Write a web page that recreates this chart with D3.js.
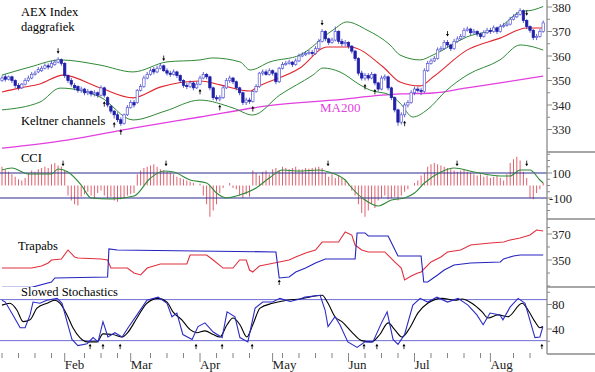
<!DOCTYPE html>
<html>
<head>
<meta charset="utf-8">
<script src="https://cdn.jsdelivr.net/npm/d3@7"></script>
<style>
  body { margin: 0; background: #fff; }
  svg { display: block; font-family: "Liberation Serif", "Times New Roman", serif; }
</style>
</head>
<body>
<div id="chart"></div>
<script>
// ---- data (trading day index 0..164, Jan..Aug) ----
var open = [350,351.5,350.5,351.5,350,348,347,348.5,350,351,352.5,353.5,354,355,356,355.5,356.5,357.5,358.5,357,
  352,350,348,347.5,346,346.5,345,345.5,344.5,345,344,347,343,339.5,337.5,336,334,332.5,336,339,
  341,341,346,347.5,351,352.5,354.5,353.5,355,356,354,353,352.5,353.5,352,350,348,347.5,349,347,
  348.5,351,352.5,351.5,347,343,342.5,343,347,350,351,349.5,347,345,341,342,341.5,345.5,347.5,353,
  353.5,352.5,354,353,349.5,355,356.5,357,357.5,356.5,358,360,360.5,361,361.5,361,363,366,370,367,
  365.5,366.5,370,366,365,365.5,364,362,359,353,351,352,351,352.5,349,346.5,351,351.5,347,343,
  338,333,336,340,341,345,346.5,346,345.5,354,357,358,359,362.5,363,365.5,364.5,363,366,367,
  368,370.5,371,369.5,370,369,368,369.5,370.5,370,371.5,370,372,372.5,373,375,376,377,378.5,374.5,
  372,370.5,367.5,368,370];
var high = [352,352.5,352,352,350.5,349,349,351,352,353.5,354,355.5,356,357,357,358,358.5,359.5,359,357.5,
  352.5,351,349,348,347.5,347,346.5,346,346,345.5,348,347.5,343.5,340,338,337,335,336.5,340,342,
  342,346.5,348.5,352,353.5,355,355.5,356,357,356.5,355,354,354.5,354,352.5,350.5,349,350,349.5,349.5,
  352,353.5,353,352,347.5,344,344,348,351,352,351.5,350,347.5,345.5,343,343,346,348.5,353.5,354.5,
  354.5,355,354.5,353.5,355.5,357.5,358,358.5,358,359,361,361.5,362,362.5,362.5,364,367,371,370.5,367.5,
  367.5,372,370.5,367,366.5,366,364.5,362.5,359.5,354,353,353,353.5,353,349.5,352,352.5,352,347.5,343.5,
  338.5,337,341,342,346,347.5,347.5,347,355,358,359,360,363.5,364,366.5,366.5,365,367,368,369,
  371.5,372,371.5,371,370.5,369.5,370.5,371.5,371.5,372.5,372,373,373.5,374,376,377,378,379.5,379,375,
  372.5,371,369,371,374.5];
var low = [349.5,349.5,350,349,347,346,346.5,348,349.5,350.5,352,353,353.5,354.5,354.5,355,356,357,356,351,
  349,347.5,346,345,345,344,344,343.5,343.5,343,343.5,343,339,336.5,334.5,333,331.5,332,335.5,338.5,
  339,340.5,345.5,347,350.5,352,352.5,353,354.5,353.5,352,351.5,352,351,349,347,346.5,347,346,346.5,
  348,350.5,350.5,346,342,341.5,341.5,342.5,346.5,349,348.5,346,344,340,340,340.5,341,345,347,352,
  352,352,352,348.5,349,354.5,356,356.5,355.5,356,357.5,359.5,360,360.5,360,360.5,362.5,365.5,366,364.5,
  365,366,365,364,364,363,361,358,352,350,350,350,350.5,348,345.5,346,350,346,342,337,
  331.5,332,335,339,340.5,344,345,344,345,353.5,356.5,357.5,358.5,362,362.5,363.5,362,362.5,365.5,366.5,
  367.5,370,368.5,369,368,367,367.5,369,369,369.5,369,369.5,371.5,372,372.5,374.5,375.5,376.5,373.5,371,
  369.5,366.5,366.5,367.5,369.5];
var close = [351,350.5,351.5,350,348,347,348.5,350,351,352.5,353,354.5,355,356,355.5,357,357.5,358.5,357,352,
  350,348.5,347,346,346.5,345,345.5,344.5,345,344,347,344,340,337.5,336,334,332.5,336,339,341,
  340,346,347.5,351,352.5,354,353.5,355,356,354,353,352.5,353.5,352,350,348,347.5,349,347,348.5,
  351,352.5,351.5,347,343,342.5,343,347,350,351,349.5,347,345,341,342,341.5,345.5,347.5,353,353.5,
  352.5,354,353,349.5,355,356.5,357,357.5,356.5,358,360,360.5,361,361.5,361,363,366,370,367,365.5,
  366.5,370,366,365,365.5,364,362,359,353,351,352,351,352.5,349,346.5,351,351.5,347,343,338,
  333,336,340,341,345,346.5,346,345.5,354,357,358,359,362.5,363,365.5,364.5,363,366,367,368,
  370.5,371,369.5,370,369,368,369.5,370.5,370,371.5,370,372,372.5,373,375,376,377,378.5,374.5,372,
  370.5,367.5,368,370,373.5];

// Keltner channels and MA200 as [day, value]
var keltnerMid = [[0,345.3],[5.5,347],[11.5,348.6],[18.5,352.2],[29.7,347],[39.7,342.9],[47.9,347.3],[60,349.8],
  [66.1,348.2],[75.2,345.7],[77.3,347.3],[90.3,355.1],[98.5,363.7],[105.5,363.7],[115.5,355.5],[120.6,349.4],
  [126.7,347.8],[130.6,351.4],[140.9,362.4],[150.9,367.3],[159.1,371.4],[164,371.4]];
var keltnerUp = [[0,352.2],[8.5,355.5],[17.6,358.4],[29.7,356.3],[39.7,353.5],[50,357.6],[60,358.4],[63.9,359.2],
  [72.1,357.6],[75.2,354.3],[81.2,357.6],[90.3,360.4],[100.3,370.6],[104.5,373.9],[110.6,370.6],[117.6,364.5],
  [120.6,360.4],[126.7,358.4],[130.6,360.4],[140.9,367.8],[150.9,371.8],[157,378],[161,378.8],[164,380.2]];
var keltnerLow = [[0,338],[11.5,341.2],[17.6,346.9],[29.7,343.3],[39.7,333.9],[49.4,337.5],[60,342],[70,338.8],
  [76,335.9],[84.2,344.1],[94.2,352.2],[97.3,355.1],[102.4,353.5],[108.5,348.2],[111.5,346.1],[117.6,344.1],
  [120.6,340.8],[124.5,335.1],[128.8,338],[134.8,346.1],[140.9,352.2],[150.9,358.4],[157,364.5],[161,363.7],[164,362.4]];
var ma200 = [[0,322.4],[19.7,325.7],[39.7,330.6],[60,335.1],[80.3,339.6],[100.3,342],[120.6,344.5],
  [130.6,344.9],[140.9,347],[150.9,349],[164,351.8]];

// CCI histogram (one bar per day) and smoothed CCI
var cci = [150,130,110,90,70,50,40,60,100,120,110,130,140,150,140,170,180,160,150,120,
  -80,-120,-150,-160,-90,-70,-50,-80,-100,-60,-40,-80,-100,-90,-120,-130,-110,-100,-80,-70,
  -60,90,120,140,150,160,170,150,130,120,110,100,90,70,60,50,40,30,20,0,
  15,-80,-150,-250,-200,-150,-60,-20,0,20,-20,-30,-80,-100,-70,-90,120,100,80,110,
  120,90,130,140,120,150,140,130,140,150,130,130,140,135,140,145,150,140,100,70,
  90,60,80,60,40,20,-40,-80,-150,-220,-250,-200,-150,-180,-120,-100,-80,-110,-100,-90,
  -120,-80,-50,-30,0,20,40,80,100,150,170,180,170,160,150,140,130,120,110,120,
  130,110,100,90,80,90,70,80,60,70,80,60,40,90,180,210,230,200,110,60,
  -100,-110,-60,-30,20];
var cciSmooth = [[0,124],[3,140],[8,92],[15,92],[17,132],[20,108],[24,4],[27,-100],[33,-108],[40,-84],
  [45,60],[49,116],[52,108],[57,44],[62,20],[65,-60],[68,-100],[72,-76],[77,-20],[81,60],[85,124],
  [90,116],[96,124],[99,108],[104,44],[106,-20],[110,-116],[114,-164],[118,-116],[122,-100],[125,-60],
  [128,20],[133,108],[137,140],[143,108],[151,76],[154,76],[157,124],[160,124],[163,44],[164,20]];
var cciLevels = [100, -100];

// Trapabs
var trapRed = [[0,343.8],[9,343.8],[12,345.4],[14,347.7],[15,350],[18,350.8],[20,357.7],[22,352.3],[23,351.5],
  [30,350.8],[32,350],[33,343.8],[38,343.8],[40,340],[42,338.5],[44,343.8],[48,346.9],[56,346.9],[57,353.8],
  [62,353.8],[64,350],[67,343.8],[70,343.8],[72,350],[74,350],[75,342.3],[76,340.8],[78,345.4],[81,346.9],
  [84,348.5],[87,350],[89,352.3],[92,355.4],[95,357.7],[97,363.8],[102,363.8],[104,371.5],[106,369.2],
  [107,361.5],[109,357.7],[111,356.2],[116,356.2],[119,348.5],[121,343.8],[122,334.6],[124,337.7],[126,340],
  [127,340.8],[130,348.5],[133,352.3],[135,356.2],[139,357.7],[142,361.5],[148,363.1],[152,363.8],
  [154,365.4],[157,366.9],[160,369.2],[162,373.1],[164,372.3]];
var trapBlue = [[0,329],[9,329],[15,333],[16,336.2],[32,336.9],[32.4,358.5],[35,357.7],[83,356.2],[84,336.2],
  [87,336.9],[89,340.8],[92,343.8],[95,347.7],[98,350.8],[107,350.8],[107.6,370.8],[110,370.8],[111,368.5],
  [117,368.5],[120,353.1],[127,353.1],[127.8,333.1],[129,333.1],[132,338.5],[134,342.3],[137,346.2],
  [142,347.7],[151,348.5],[152,350.8],[155,353.1],[157,353.8],[164,353.8]];

// Slowed stochastics
var stochSlow = [[0,79],[2.4,82],[4.5,71],[6.4,52],[8.5,55],[10.6,74],[13.6,82],[16,87],[17.6,82],[19.7,63],
  [21.5,42],[23.6,26],[25.8,19],[28.8,19],[30.6,32],[33.6,31],[36.4,27],[38.2,35],[40.9,58],[43.9,82],
  [47.3,90],[50,84],[51.8,68],[54.5,55],[57,39],[59,34],[61.5,37],[64,31],[66,27],[68.2,47],[70,58],
  [72.1,47],[74.2,27],[76,47],[78.2,74],[82,82],[86.4,87],[90.3,89],[97,95],[98.8,82],[100.9,60],
  [103,52],[106,35],[109,21],[112,19],[114.5,31],[117,50],[119,39],[121.2,27],[123.6,42],[126,66],
  [129,82],[133.3,90],[137.3,87],[139.4,89],[142.4,82],[145.5,68],[147.3,58],[150.3,63],[153.3,60],
  [157.6,82],[159.4,71],[161.5,52],[163,42],[163.9,44]];
var stochFast = [[0,87],[1,84],[3.3,63],[5.5,42],[7,42],[8.5,63],[9.4,84],[11.5,82],[13.6,87],[16.7,90],
  [18.2,82],[19.7,52],[21.2,23],[23,13],[25.8,16],[27.6,26],[29.1,19],[30.6,52],[32.1,27],[34.2,34],
  [36.4,27],[38.2,42],[40.9,63],[43.9,87],[47.3,92],[50,82],[51.5,60],[53,66],[54.8,31],[57.6,23],
  [59.4,44],[61.5,50],[64,35],[66.7,26],[68.2,68],[70.6,60],[72.1,26],[74.5,19],[76.7,74],[79,84],
  [82,84],[84.2,90],[87.3,85],[90.3,89],[91.8,92],[96.4,95],[97.9,71],[98.8,44],[100.9,60],[102.4,47],
  [104.8,19],[107.6,10],[110,19],[112.4,19],[115,50],[116.7,68],[118.5,23],[120,15],[122,31],[124.5,79],
  [126.7,90],[129,84],[131.8,92],[135,84],[138.2,90],[141.2,79],[143.9,63],[145.8,47],[147.9,66],
  [150.9,63],[151.8,55],[154,76],[156.4,90],[158.5,82],[161.5,26],[163,27],[163.9,44]];
var stochLevels = [88, 21];

// signal arrows (day indices)
var priceDownArrows = [17, 49, 97, 135, 159];
var priceUpArrows = [31, 34, 36, 60, 66, 76, 110, 113, 122];
var cciArrows = [18.5, 49.7, 98.8, 137.9, 159];
var trapArrows = [84];
var stochArrows = [26.7, 30.6, 35.8, 58.8, 66.7, 75.8, 109.7, 113.6, 121.8, 163.6];

// axis ticks
var months = ["Feb", "Mar", "Apr", "May", "Jun", "Jul", "Aug"];
var monthStart = [19, 39, 60, 82, 105, 125, 148];
var priceTicks = [380, 370, 360, 350, 340, 330];
var cciTicks = [100, -100];
var trapTicks = [370, 350];
var stochTicks = [80, 40];

// ---- layout ----
var W = 595, H = 372, axisX = 547;
var panels = { price: [0, 152], cci: [152, 219], trap: [219, 287], stoch: [287, 354] };

var svg = d3.select("#chart").append("svg").attr("width", W).attr("height", H);

var x = d3.scaleLinear().domain([0, 164]).range([2, 543.2]);
var yPrice = d3.scaleLinear().domain([330, 380]).range([129.5, 7]);
var yCci = d3.scaleLinear().domain([-100, 100]).range([198, 173]);
var yTrap = d3.scaleLinear().domain([350, 370]).range([260, 234]);
var yStoch = d3.scaleLinear().domain([40, 80]).range([329, 304.5]);

var defs = svg.append("defs");
Object.keys(panels).forEach(function(k) {
    defs.append("clipPath").attr("id", "clip-" + k)
        .append("rect").attr("x", 0).attr("y", panels[k][0])
        .attr("width", axisX).attr("height", panels[k][1] - panels[k][0]);
});

function panel(k) { return svg.append("g").attr("clip-path", "url(#clip-" + k + ")"); }

function drawLine(g, data, y, color, curve, w) {
    g.append("path").datum(data)
        .attr("fill", "none").attr("stroke", color).attr("stroke-width", w || 1)
        .attr("d", d3.line().x(function(d) { return x(d[0]); }).y(function(d) { return y(d[1]); }).curve(curve || d3.curveLinear));
}

function arrow(g, px, py, dir) {
    // dir 1 = pointing down, -1 = pointing up
    g.append("path")
        .attr("d", "M" + px + "," + (py - 3 * dir) + "L" + px + "," + (py + 1 * dir))
        .attr("stroke", "#000").attr("stroke-width", 0.8);
    g.append("path")
        .attr("d", "M" + (px - 1.5) + "," + py + "L" + (px + 1.5) + "," + py + "L" + px + "," + (py + 2.5 * dir) + "Z")
        .attr("fill", "#000");
}

// ---- price panel ----
var gp = panel("price");
drawLine(gp, ma200, yPrice, "#e23fe0", d3.curveMonotoneX, 1.3);
drawLine(gp, keltnerUp, yPrice, "#2f8a36", d3.curveMonotoneX, 1);
drawLine(gp, keltnerLow, yPrice, "#2f8a36", d3.curveMonotoneX, 1);
drawLine(gp, keltnerMid, yPrice, "#e0262e", d3.curveMonotoneX, 1.1);

var candles = d3.range(close.length).map(function(i) {
    return { i: i, o: open[i], h: high[i], l: low[i], c: close[i] };
});
var cg = gp.selectAll(".candle").data(candles).enter().append("g").attr("class", "candle");
cg.append("line")
    .attr("x1", function(d) { return x(d.i); }).attr("x2", function(d) { return x(d.i); })
    .attr("y1", function(d) { return yPrice(d.h); }).attr("y2", function(d) { return yPrice(d.l); })
    .attr("stroke", "#3a3ac8").attr("stroke-width", 0.8);
cg.append("rect")
    .attr("x", function(d) { return x(d.i) - 1.2; })
    .attr("y", function(d) { return yPrice(Math.max(d.o, d.c)); })
    .attr("width", 2.4)
    .attr("height", function(d) { return Math.max(0.8, Math.abs(yPrice(d.o) - yPrice(d.c))); })
    .attr("fill", function(d) { return d.c >= d.o ? "#fff" : "#1f1fa8"; })
    .attr("stroke", function(d) { return d.c >= d.o ? "#5a5ad8" : "#1f1fa8"; })
    .attr("stroke-width", 0.7);

priceDownArrows.forEach(function(d) { arrow(gp, x(d), yPrice(high[Math.round(d)]) - 6, 1); });
priceUpArrows.forEach(function(d) { arrow(gp, x(d), yPrice(low[Math.round(d)]) + 6, -1); });

svg.append("text").attr("x", 21).attr("y", 16).attr("font-size", 12.5).text("AEX Index");
svg.append("text").attr("x", 21).attr("y", 31).attr("font-size", 12.5).text("daggrafiek");
svg.append("text").attr("x", 21).attr("y", 125).attr("font-size", 12.5).text("Keltner channels");
svg.append("text").attr("x", 320).attr("y", 112).attr("font-size", 13).attr("fill", "#e23fe0").text("MA200");

// ---- CCI panel ----
var gc = panel("cci");
gc.selectAll(".bar").data(cci).enter().append("line")
    .attr("x1", function(d, i) { return x(i); }).attr("x2", function(d, i) { return x(i); })
    .attr("y1", yCci(0)).attr("y2", function(d) { return yCci(d); })
    .attr("stroke", "#e0606e").attr("stroke-width", 1);
cciLevels.forEach(function(v) {
    gc.append("line").attr("x1", 0).attr("x2", axisX).attr("y1", yCci(v)).attr("y2", yCci(v))
        .attr("stroke", "#2b2b8f").attr("stroke-width", 1.2);
});
drawLine(gc, cciSmooth, yCci, "#2f8a36", d3.curveMonotoneX, 1.1);
cciArrows.forEach(function(d) { arrow(gc, x(d), yCci(175), 1); });
svg.append("text").attr("x", 21).attr("y", 162).attr("font-size", 12.5).text("CCI");

// ---- Trapabs panel ----
var gt = panel("trap");
drawLine(gt, trapRed, yTrap, "#e0303e", d3.curveLinear, 1.1);
drawLine(gt, trapBlue, yTrap, "#2424c0", d3.curveLinear, 1.1);
trapArrows.forEach(function(d) { arrow(gt, x(d), 282, -1); });
svg.append("text").attr("x", 18).attr("y", 250).attr("font-size", 12.5).text("Trapabs");

// ---- Stochastics panel ----
var gs = panel("stoch");
stochLevels.forEach(function(v) {
    gs.append("line").attr("x1", 0).attr("x2", axisX).attr("y1", yStoch(v)).attr("y2", yStoch(v))
        .attr("stroke", "#6e6ed6").attr("stroke-width", 1);
});
drawLine(gs, stochSlow, yStoch, "#000", d3.curveMonotoneX, 1.1);
drawLine(gs, stochFast, yStoch, "#2c2cc4", d3.curveLinear, 1.1);
stochArrows.forEach(function(d) { arrow(gs, x(d), yStoch(12), -1); });
svg.append("text").attr("x", 21).attr("y", 296).attr("font-size", 12.5).text("Slowed Stochastics");

// ---- right axis ----
var ax = svg.append("g").attr("stroke", "#8a8a8a");
ax.append("line").attr("x1", axisX).attr("x2", axisX).attr("y1", 0).attr("y2", 354).attr("stroke-width", 1.3);
[152, 219, 287, 354].forEach(function(yy) {
    ax.append("line").attr("x1", axisX).attr("x2", W).attr("y1", yy).attr("y2", yy).attr("stroke-width", 1.3);
});

function axisLabels(ticks, y, minor) {
    minor.forEach(function(v) {
        ax.append("line").attr("x1", axisX).attr("x2", axisX + 3).attr("y1", y(v)).attr("y2", y(v));
    });
    ticks.forEach(function(v) {
        ax.append("line").attr("x1", axisX).attr("x2", axisX + 5).attr("y1", y(v)).attr("y2", y(v));
        svg.append("text").attr("x", v < 0 ? 549 : 552).attr("y", y(v) + 4.5)
            .attr("font-size", 12.5).attr("fill", "#222").text(v);
    });
}
axisLabels(priceTicks, yPrice, [375, 365, 355, 345, 335]);
axisLabels(cciTicks, yCci, [250, 200, 150, 50, 0, -50, -150, -200]);
axisLabels(trapTicks, yTrap, [375, 360, 340, 330]);
axisLabels(stochTicks, yStoch, [100, 60, 20]);

// ---- time axis ----
var tg = svg.append("g").attr("stroke", "#666");
d3.range(0, 165, 5).forEach(function(d) {
    var near = monthStart.some(function(m) { return Math.abs(m - d) < 3; });
    if (near) return;
    tg.append("line").attr("x1", x(d)).attr("x2", x(d)).attr("y1", 353).attr("y2", 358).attr("stroke-width", 0.8);
});
monthStart.forEach(function(d, i) {
    tg.append("line").attr("x1", x(d)).attr("x2", x(d)).attr("y1", 353).attr("y2", 362).attr("stroke-width", 0.8);
    svg.append("text").attr("x", x(d)).attr("y", 369).attr("font-size", 13).attr("fill", "#222").text(months[i]);
});
</script>
</body>
</html>
